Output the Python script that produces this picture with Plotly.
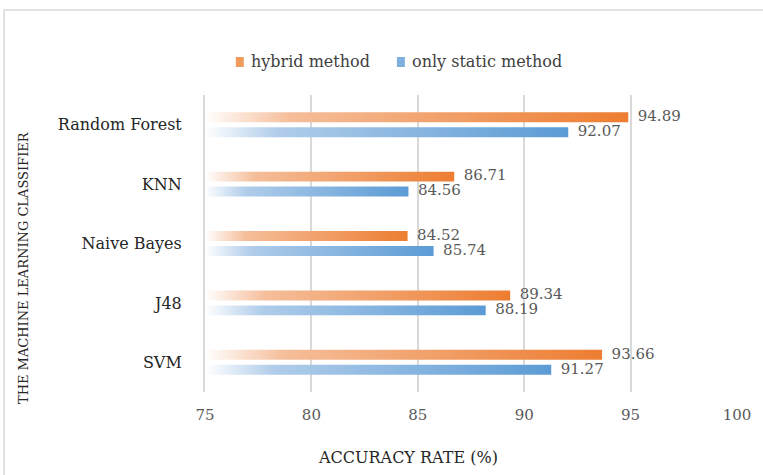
import plotly.graph_objects as go

categories = ["SVM", "J48", "Naive Bayes", "KNN", "Random Forest"]
hybrid = [93.66, 89.34, 84.52, 86.71, 94.89]
static = [91.27, 88.19, 85.74, 84.56, 92.07]
x_ticks = [75, 80, 85, 90, 95, 100]
series_names = ["hybrid method", "only static method"]

ORANGE = "#ED7D31"
BLUE = "#5B9BD5"
orange_scale = [[0, "rgba(255,255,255,1)"], [0.2, "#F5BE9A"], [1, ORANGE]]
blue_scale = [[0, "rgba(255,255,255,1)"], [0.2, "#B0CDEA"], [1, BLUE]]

FONT = "DejaVu Serif"
BASE = 75
HALF_H = 0.084
OFFSET = 0.126

fig = go.Figure()

for series, off, scale in [(hybrid, OFFSET, orange_scale), (static, -OFFSET, blue_scale)]:
    for i, v in enumerate(series):
        yc = i + off
        fig.add_trace(go.Scatter(
            x=[BASE, v, v, BASE, BASE],
            y=[yc - HALF_H, yc - HALF_H, yc + HALF_H, yc + HALF_H, yc - HALF_H],
            mode="lines", line=dict(width=0), fill="toself",
            fillgradient=dict(type="horizontal", colorscale=scale),
            hoverinfo="skip", showlegend=False,
        ))
    fig.add_trace(go.Scatter(
        x=series, y=[i + off for i in range(len(series))],
        mode="text", text=["  " + f"{v:.2f}" for v in series],
        textposition="middle right",
        textfont=dict(family=FONT, size=15, color="#595959"),
        showlegend=False, hoverinfo="skip", cliponaxis=False,
    ))

def px_x(px):
    return (px - 205) / 535

def px_y(py):
    return (392 - py) / 297

shapes = [
    dict(type="rect", xref="paper", yref="paper", x0=px_x(3), x1=px_x(790),
         y0=px_y(500), y1=px_y(10), line=dict(color="#D9D9D9", width=1.5), layer="below"),
    dict(type="rect", xref="paper", yref="paper", x0=px_x(236), x1=px_x(244),
         y0=px_y(67), y1=px_y(57), fillcolor="#F09A5E", line=dict(width=0)),
    dict(type="rect", xref="paper", yref="paper", x0=px_x(398), x1=px_x(406),
         y0=px_y(67), y1=px_y(57), fillcolor="#7FAFDD", line=dict(width=0)),
]

annotations = [
    dict(text=series_names[0], x=px_x(249), y=px_y(62), xref="paper", yref="paper",
         xanchor="left", yanchor="middle", showarrow=False,
         font=dict(family=FONT, size=16, color="#404040")),
    dict(text=series_names[1], x=px_x(411), y=px_y(62), xref="paper", yref="paper",
         xanchor="left", yanchor="middle", showarrow=False,
         font=dict(family=FONT, size=16, color="#404040")),
    dict(text="ACCURACY RATE (%)", x=px_x(409), y=px_y(457), xref="paper", yref="paper",
         xanchor="center", yanchor="middle", showarrow=False,
         font=dict(family=FONT, size=16, color="#262626")),
    dict(text="THE MACHINE LEARNING CLASSIFIER", x=px_x(22), y=px_y(268), xref="paper", yref="paper",
         xanchor="center", yanchor="middle", showarrow=False, textangle=-90,
         font=dict(family=FONT, size=13, color="#262626")),
]

fig.update_layout(
    width=763, height=475,
    margin=dict(l=205, r=23, t=95, b=83),
    paper_bgcolor="white", plot_bgcolor="white",
    shapes=shapes, annotations=annotations,
    showlegend=False,
    xaxis=dict(range=[75, 100], tickvals=x_ticks, ticktext=[str(t) for t in x_ticks],
               showgrid=True, gridcolor="#D9D9D9", gridwidth=2, zeroline=False,
               showline=False, ticks="", ticklabelstandoff=12,
               tickfont=dict(family=FONT, size=15, color="#595959")),
    yaxis=dict(range=[-0.5, 4.5], tickvals=list(range(len(categories))), ticktext=categories,
               showgrid=False, zeroline=False, showline=True, linecolor="#D9D9D9", linewidth=2,
               ticks="", ticklabelstandoff=18,
               tickfont=dict(family=FONT, size=16, color="#262626")),
)

fig.write_html("out.html", config={"displayModeBar": False},
               post_script="document.body.style.margin='0';document.body.style.overflow='hidden';")
